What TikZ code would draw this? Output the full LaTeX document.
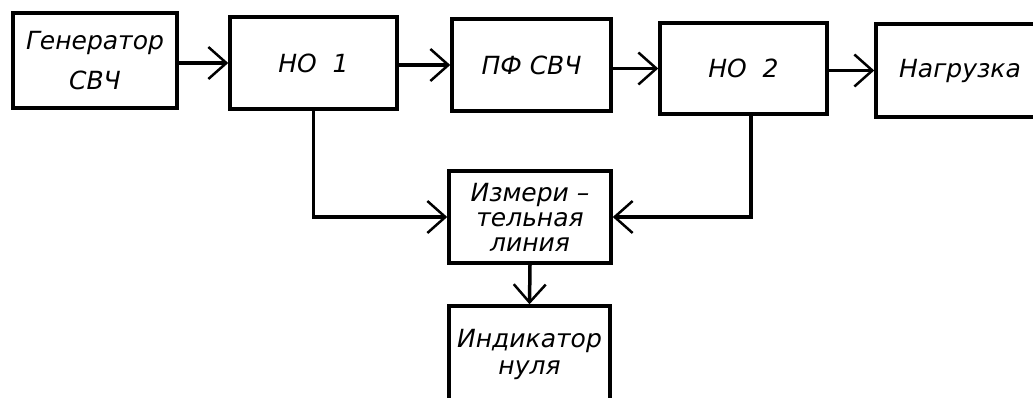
\documentclass[tikz,border=0pt]{standalone}
\usepackage{fontspec}
\setmainfont{DejaVu Sans}
\usetikzlibrary{arrows.meta}
\begin{document}
\begin{tikzpicture}[x=1pt,y=-1pt,
  blk/.style={draw=black, line width=3.5pt, inner sep=0pt, align=center,
    font=\itshape\fontsize{25}{25}\selectfont},
  arr/.style={line width=3.5pt, -{Straight Barb[length=18pt,width=32pt,line width=2.5pt]}}]
\useasboundingbox (0,0) rectangle (1033,397);
\clip (0,0) rectangle (1033,397);
\fill[white] (0,0) rectangle (1033,397);

\node[blk, minimum width=164pt, minimum height=95pt, font=\itshape\fontsize{25}{40}\selectfont] (gen) at (95,60.5) {Генератор\\СВЧ};
\node[blk, minimum width=167pt, minimum height=92pt] (ho1) at (313.5,63) {НО\ \ 1};
\node[blk, minimum width=159pt, minimum height=92pt] (pf) at (531.5,65) {ПФ\ СВЧ};
\node[blk, minimum width=167pt, minimum height=91pt] (ho2) at (743.5,68.5) {НО\ \ 2};
\node[blk, minimum width=168pt, minimum height=93pt] (load) at (960,70.5) {Нагрузка};
\node[blk, minimum width=162pt, minimum height=92pt] (izm) at (530,217) {Измери --\\тельная\\линия};
\node[blk, minimum width=161pt, minimum height=96pt, font=\itshape\fontsize{25}{27}\selectfont] (ind) at (529.5,354) {Индикатор\\нуля};

\draw[arr] (gen.east |- ho1.west) -- (ho1.west);
\draw[arr] (ho1.east |- pf.west) -- (pf.west);
\draw[arr] (pf.east |- ho2.west) -- (ho2.west);
\draw[arr] (ho2.east |- load.west) -- (load.west);
\draw[arr] (ho1.south) |- (izm.west);
\draw[arr] ([xshift=7.5pt]ho2.south) |- (izm.east);
\draw[arr] (izm.south) -- (ind.north);
\end{tikzpicture}
\end{document}
